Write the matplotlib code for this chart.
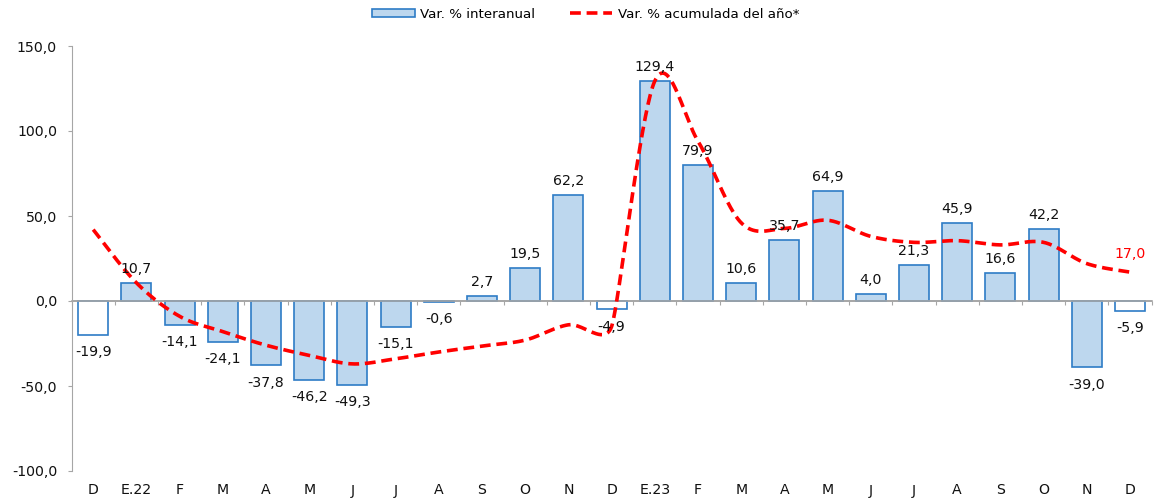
import numpy as np
import matplotlib
matplotlib.use("Agg")
import matplotlib.pyplot as plt
from matplotlib.patches import Patch
from matplotlib.lines import Line2D

plt.rcParams['font.family'] = ['DejaVu Sans']

categories = ["D", "E.22", "F", "M", "A", "M", "J", "J", "A", "S", "O", "N",
              "D", "E.23", "F", "M", "A", "M", "J", "J", "A", "S", "O", "N", "D"]
interanual = [-19.9, 10.7, -14.1, -24.1, -37.8, -46.2, -49.3, -15.1, -0.6, 2.7, 19.5, 62.2,
              -4.9, 129.4, 79.9, 10.6, 35.7, 64.9, 4.0, 21.3, 45.9, 16.6, 42.2, -39.0, -5.9]
acumulada = [42, 10.7, -9, -18, -26, -32, -37, -34, -30, -26.5, -23, -14,
             -15, 129.4, 94, 46, 42.7, 47.5, 38, 34.5, 35.5, 33, 34.5, 22, 17.0]
white_bars = {0, 12, 24}  # December bars drawn without fill

BAR_FILL = '#BDD7EE'
BAR_EDGE = '#2E7CC6'
RED = '#FF0000'
FS = 10.2

W, H = 1155, 501
AX_L, AX_B, AX_W, AX_H = 71.6, 30, 1080, 425
YMIN, YMAX = -100, 150


def fmt(v):
    return f"{v:.1f}".replace('.', ',')


def smooth(y, n=40):
    # Excel-style smoothed line: cubic Bezier through the points, control
    # points along the neighbour tangent, computed in pixel space.
    sx = AX_W / len(y)
    sy = AX_H / (YMAX - YMIN)
    P = np.column_stack([np.arange(len(y)) * sx, np.asarray(y, float) * sy])
    m = len(P)
    cin, cout = [], []
    for i in range(m):
        p0 = P[i - 1] if i > 0 else P[i]
        p2 = P[i + 1] if i < m - 1 else P[i]
        t = p2 - p0
        d02 = np.hypot(*t)
        d01 = np.hypot(*(P[i] - p0)) if i > 0 else np.inf
        d12 = np.hypot(*(p2 - P[i])) if i < m - 1 else np.inf
        L = min(d02 / 6.0, d01 / 2.0, d12 / 2.0)
        u = t / d02 if d02 > 0 else np.zeros(2)
        cin.append(P[i] - u * L)
        cout.append(P[i] + u * L)
    pts = []
    for i in range(m - 1):
        tt = np.linspace(0, 1, n, endpoint=(i == m - 2))[:, None]
        b = ((1 - tt) ** 3) * P[i] + 3 * ((1 - tt) ** 2) * tt * cout[i] \
            + 3 * (1 - tt) * tt ** 2 * cin[i + 1] + tt ** 3 * P[i + 1]
        pts.append(b)
    pts = np.vstack(pts)
    return pts[:, 0] / sx, pts[:, 1] / sy


fig = plt.figure(figsize=(W / 100, H / 100), dpi=100)
ax = fig.add_axes([AX_L / W, AX_B / H, AX_W / W, AX_H / H])

x = np.arange(len(categories))
colors = ['white' if i in white_bars else BAR_FILL for i in range(len(x))]
ax.bar(x, interanual, width=0.69, color=colors, edgecolor=BAR_EDGE, linewidth=1.2, zorder=2)

for xi, v in zip(x, interanual):
    if v >= 0:
        ax.annotate(fmt(v), (xi, v), xytext=(0, 5), textcoords='offset points',
                    ha='center', va='bottom', fontsize=FS, color='#111111', zorder=5)
    else:
        ax.annotate(fmt(v), (xi, v), xytext=(0, -7.5), textcoords='offset points',
                    ha='center', va='top', fontsize=FS, color='#111111', zorder=5)

sx_, sy_ = smooth(acumulada)
ax.plot(sx_, sy_, color=RED, lw=2.6, ls=(0, (3.0, 1.6)), zorder=4)
ax.annotate(fmt(acumulada[-1]), (x[-1], acumulada[-1]), xytext=(0, 8), textcoords='offset points',
            ha='center', va='bottom', fontsize=FS, color=RED, zorder=5)

ax.set_xlim(-0.5, len(x) - 0.5)
ax.set_ylim(YMIN, YMAX)
yt = [-100, -50, 0, 50, 100, 150]
ax.set_yticks(yt)
ax.set_yticklabels([fmt(v) for v in yt], fontsize=FS)
ax.tick_params(axis='y', length=3, color='#A6A6A6', pad=7.5, labelcolor='#111111')

ax.set_xticks(x)
ax.set_xticklabels(categories, fontsize=FS, color='#111111')
ax.tick_params(axis='x', length=0, pad=9)

for s in ['top', 'right', 'bottom']:
    ax.spines[s].set_visible(False)
ax.spines['left'].set_color('#A6A6A6')

# horizontal axis line at zero with boundary ticks
sec = ax.secondary_xaxis((0 - YMIN) / (YMAX - YMIN))
sec.set_xticks(np.arange(len(x) + 1) - 0.5)
sec.set_xticklabels([])
sec.tick_params(axis='x', direction='out', length=3, color='#A6A6A6')
sec.spines['bottom'].set_color('#A6A6A6')
sec.spines['bottom'].set_linewidth(1.2)
ax.axhline(0, color='#A6A6A6', lw=1.2, zorder=3)

handles = [Patch(facecolor=BAR_FILL, edgecolor=BAR_EDGE, linewidth=1.2, label='Var. % interanual'),
           Line2D([0], [0], color=RED, lw=2.6, ls=(0, (3.0, 1.6)), label='Var. % acumulada del año*')]
fig.legend(handles=handles, loc='center', bbox_to_anchor=(0.507, 0.972), ncol=2, frameon=False,
           fontsize=9.6, handlelength=3.2, handleheight=0.55, columnspacing=2.6, handletextpad=0.4)

fig.savefig('out.png', dpi=100, facecolor='white')
